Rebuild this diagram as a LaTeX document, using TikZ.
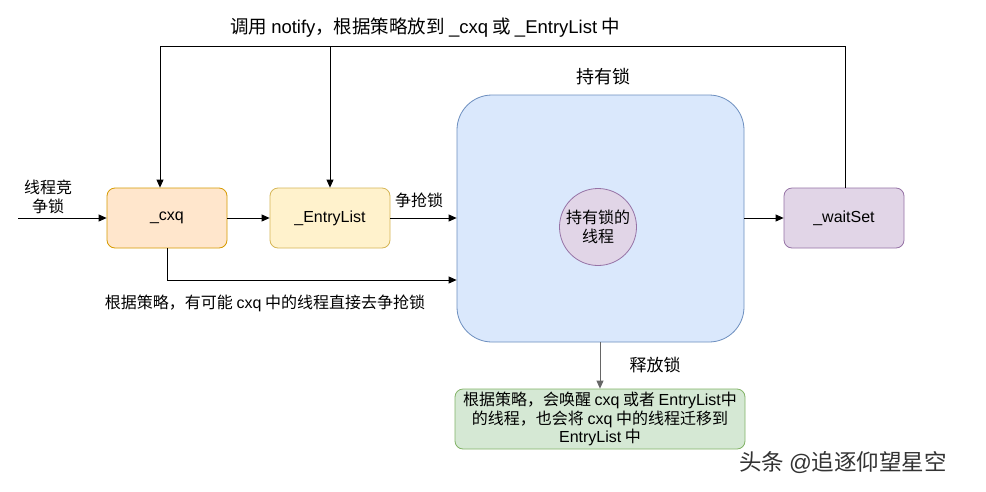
\documentclass[tikz,border=0pt]{standalone}
\usepackage{fontspec}
\setmainfont{Noto Sans CJK SC}
\newfontfamily\latfont{Liberation Sans}
\newcommand{\lt}[1]{{\latfont #1}}
\usetikzlibrary{arrows.meta}
\definecolor{cxqfill}{HTML}{FFE6CC}\definecolor{cxqdraw}{HTML}{D79B00}
\definecolor{elfill}{HTML}{FFF2CC}\definecolor{eldraw}{HTML}{D6B656}
\definecolor{bluefill}{HTML}{DAE8FC}\definecolor{bluedraw}{HTML}{6C8EBF}
\definecolor{purfill}{HTML}{E1D5E7}\definecolor{purdraw}{HTML}{9673A6}
\definecolor{grnfill}{HTML}{D5E8D4}\definecolor{grndraw}{HTML}{82B366}
\begin{document}
\begin{tikzpicture}[x=1pt,y=-1pt,
  every node/.style={font=\fontsize{16}{19}\selectfont},
  box/.style={draw, rounded corners=8pt, minimum width=120pt, minimum height=60pt, inner sep=0pt, line width=0.8pt},
  conn/.style={-{Triangle[length=8pt,width=7pt]}, line width=0.8pt},
  lbl/.style={inner sep=0pt, align=center}]
\useasboundingbox (0,0) rectangle (986,491);
\fill[white] (0,0) rectangle (986,491);
% nodes
\node[box, fill=cxqfill, draw=cxqdraw] (cxq) at (167,218) {\lt{\_cxq}};
\node[box, fill=elfill, draw=eldraw] (el) at (330,218) {\lt{\_EntryList}};
\node[draw=bluedraw, fill=bluefill, rounded corners=35pt, minimum width=287pt, minimum height=247pt, line width=0.8pt] (hold) at (600.5,218.5) {};
\node[circle, draw=purdraw, fill=purfill, minimum size=77pt, inner sep=0pt, align=center, line width=0.8pt] (thr) at (598,227) {持有锁的\\线程};
\node[box, fill=purfill, draw=purdraw] (ws) at (844,218) {\lt{\_waitSet}};
\node[box, fill=grnfill, draw=grndraw, minimum width=290pt, align=center, font=\fontsize{16}{18.5}\selectfont] (rel) at (600,419)
  {根据策略，会唤醒 \lt{cxq} 或者 \lt{EntryList}中\\的线程，也会将 \lt{cxq} 中的线程迁移到\\\lt{EntryList} 中};
% coordinates
\coordinate (start) at (18,218);
\coordinate (tl) at (160,46);
\coordinate (tm) at (330,46);
\coordinate (tr) at (845,46);
% connectors
\draw[conn] (start) -- (cxq.west);
\draw[conn] (cxq.east) -- (el.west);
\draw[conn] (el.east) -- (el.east -| hold.west);
\draw[conn] (cxq.south) |- (hold.west |- 0,280);
\draw[conn] (hold.east |- ws.west) -- (ws.west);
\draw[line width=0.8pt] (ws.north -| tr) -- (tr) -- (tl);
\draw[conn] (tl) -- (tl |- cxq.north);
\draw[conn] (tm) -- (el.north);
\draw[conn, draw=black!60] (hold.south -| rel.north) -- (rel.north);
% labels
\node[lbl, font=\fontsize{18.5}{22}\selectfont] at (425,28) {调用 \lt{notify}，根据策略放到 \lt{\_cxq} 或 \lt{\_EntryList} 中};
\node[lbl, font=\fontsize{18}{22}\selectfont] at (603,77) {持有锁};
\node[lbl] at (48,197) {线程竞\\争锁};
\node[lbl] at (419,200) {争抢锁};
\node[lbl] at (265,303) {根据策略，有可能 \lt{cxq} 中的线程直接去争抢锁};
\node[lbl, font=\fontsize{17}{20}\selectfont] at (655,365) {释放锁};
\node[lbl, font=\fontsize{22.5}{26}\selectfont, text=black!80] at (843,463) {头条 \lt{@}追逐仰望星空};
\end{tikzpicture}
\end{document}
